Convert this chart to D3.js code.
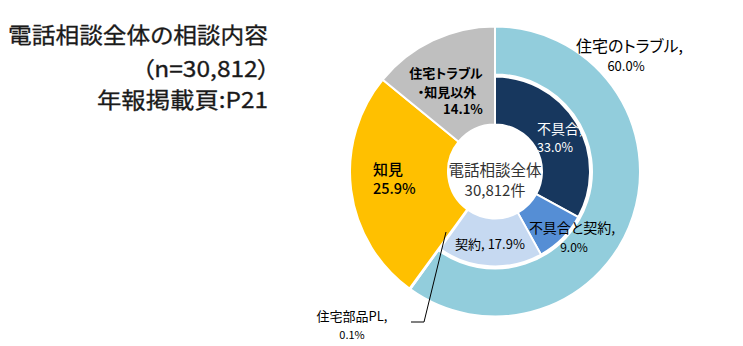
<!DOCTYPE html>
<html><head><meta charset="utf-8">
<script src="https://cdn.jsdelivr.net/npm/d3@7"></script>
<style>
html,body{margin:0;padding:0;background:#fff;}
text{font-family:"Noto Sans CJK JP","Noto Sans",sans-serif;font-feature-settings:"palt" 1;}
</style></head>
<body><svg id="c" width="743" height="346"></svg>
<script>
const titleLines = ["電話相談全体の相談内容", "（n=30,812）", "年報掲載頁:P21"];
const outerLabels = ["住宅のトラブル", "住宅部品PL", "知見", "住宅トラブル・知見以外"];
const outerValues = [60.0, 0.1, 25.9, 14.1];
const outerColors = ["#92CDDC", "#92CDDC", "#FFC000", "#BFBFBF"];
const innerLabels = ["不具合", "不具合と契約", "契約"];
const innerValues = [33.0, 9.0, 17.9];
const innerColors = ["#17375E", "#558ED5", "#C6D9F1"];
const centerLines = ["電話相談全体", "30,812件"];

const svg = d3.select("#c");
const cx = 495, cy = 171.5;
const R = 145, rMid = 96, rHole = 47;

// title
const tg = svg.append("g").attr("fill", "#1a1a1a").attr("font-size", 22).attr("font-weight", 400)
  .attr("stroke", "#1a1a1a").attr("stroke-width", 0.3);
tg.append("text").attr("x", 8).attr("y", 43).attr("textLength", 260).attr("lengthAdjust","spacingAndGlyphs").text(titleLines[0]);
tg.append("text").attr("x", 142).attr("y", 77).attr("textLength", 128).attr("lengthAdjust","spacingAndGlyphs").text(titleLines[1]);
tg.append("text").attr("x", 97).attr("y", 108).attr("textLength", 171).attr("lengthAdjust","spacingAndGlyphs").text(titleLines[2]);

const g = svg.append("g").attr("transform", `translate(${cx},${cy})`);
const outerSum = d3.sum(outerValues);

const pieOuter = d3.pie().sort(null).value(d => d)(outerValues);
const arcOuter = d3.arc();
g.selectAll("path.o").data(pieOuter).join("path").attr("class", "o")
  .attr("d", (d, i) => arcOuter({startAngle: d.startAngle, endAngle: d.endAngle, innerRadius: i === 0 ? rMid + 1 : rHole, outerRadius: R}))
  .attr("fill", (d, i) => outerColors[i])
  .attr("stroke", "#fff").attr("stroke-width", 2).attr("stroke-linejoin", "round");

const innerData = innerValues.concat([outerSum - d3.sum(innerValues)]);
const pieInner = d3.pie().sort(null).value(d => d)(innerData).slice(0, innerValues.length);
g.selectAll("path.i").data(pieInner).join("path").attr("class", "i")
  .attr("d", d => arcOuter({startAngle: d.startAngle, endAngle: d.endAngle, innerRadius: rHole, outerRadius: rMid - 1}))
  .attr("fill", (d, i) => innerColors[i])
  .attr("stroke", "#fff").attr("stroke-width", 2).attr("stroke-linejoin", "round");

g.append("circle").attr("r", rHole).attr("fill", "#fff");

// center text
g.append("text").attr("x", 0).attr("y", 4).attr("text-anchor", "middle").attr("font-size", 15.5).attr("fill", "#333").text(centerLines[0]);
g.append("text").attr("x", 0).attr("y", 24.5).attr("text-anchor", "middle").attr("font-size", 15).attr("fill", "#333").text(centerLines[1]);

// labels
function lbl(x, y, t, size, fill, weight, anchor) {
  svg.append("text").attr("x", x).attr("y", y).attr("font-size", size).attr("fill", fill)
    .attr("font-weight", weight || 400).attr("text-anchor", anchor || "start").text(t);
}
const pct = v => v.toFixed(1) + "%";
lbl(576, 52, outerLabels[0] + ",", 16, "#000");
lbl(626, 71, pct(outerValues[0]), 13, "#000", 400, "middle");

lbl(446, 78, "住宅トラブル", 13, "#000", 700, "middle");
lbl(447, 97, "・知見以外", 13, "#000", 700, "middle");
lbl(463, 114, pct(outerValues[3]), 13, "#000", 700, "middle");

lbl(373, 174.5, outerLabels[2], 15, "#000", 500);
lbl(373, 194, pct(outerValues[2]), 14.5, "#000", 500);

lbl(560, 133.5, innerLabels[0] + ",", 14, "#fff", 400, "middle");
lbl(555, 151.5, pct(innerValues[0]), 12.5, "#fff", 400, "middle");

lbl(572, 233, innerLabels[1] + ",", 14, "#000", 400, "middle");
lbl(574, 252, pct(innerValues[1]), 12, "#000", 400, "middle");

lbl(490, 249, innerLabels[2] + ", " + pct(innerValues[2]), 13, "#000", 400, "middle");

lbl(352, 321, outerLabels[1] + ",", 13, "#000", 400, "middle");
lbl(352, 339, pct(outerValues[1]), 11, "#000", 400, "middle");

// leader line
svg.append("path").attr("d", d3.line()([[446, 232], [424, 322], [411, 322]]))
  .attr("fill", "none").attr("stroke", "#000").attr("stroke-width", 1);
</script></body></html>
